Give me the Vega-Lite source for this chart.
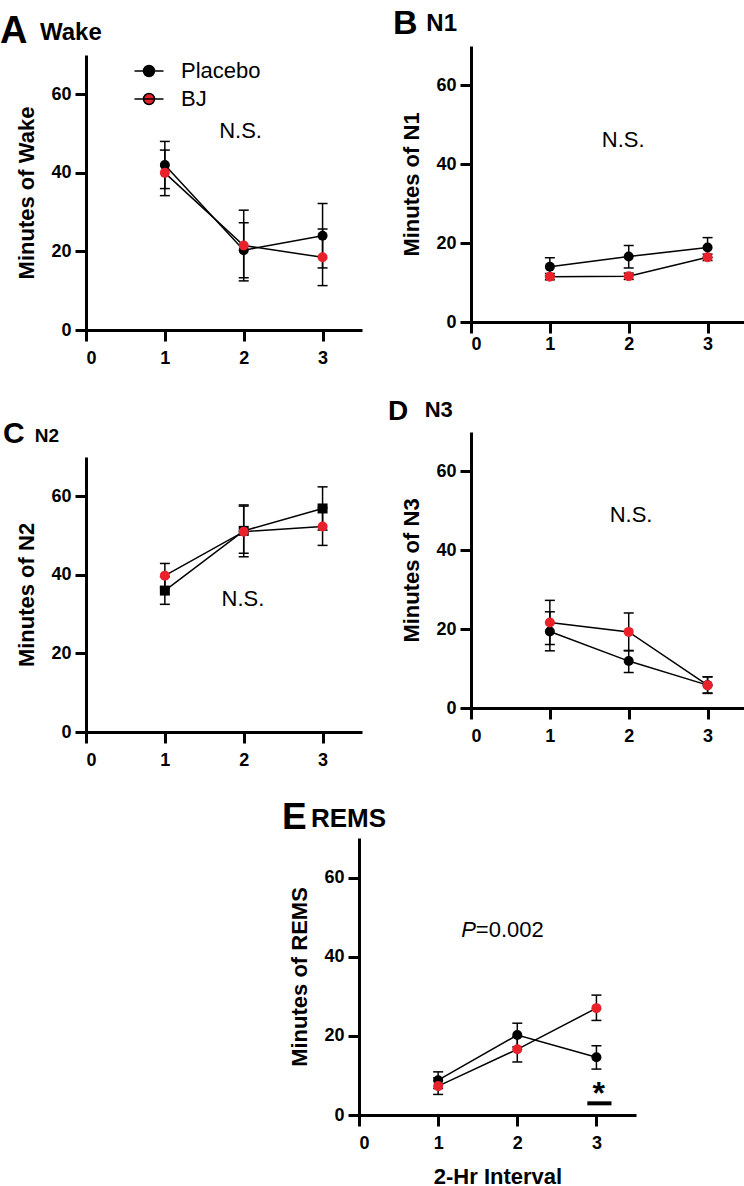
{
  "$schema": "https://vega.github.io/schema/vega-lite/v6.json",
  "padding": {"left": 0, "top": 6, "right": 0, "bottom": 0},
  "background": "white",
  "datasets": {
    "wake": [
      {"interval": 1, "group": "Placebo", "mean": 42, "lo": 36, "hi": 48},
      {"interval": 2, "group": "Placebo", "mean": 20.3, "lo": 13.3, "hi": 27.3},
      {"interval": 3, "group": "Placebo", "mean": 24, "lo": 15.8, "hi": 32.2},
      {"interval": 1, "group": "BJ", "mean": 40, "lo": 34.2, "hi": 45.8},
      {"interval": 2, "group": "BJ", "mean": 21.5, "lo": 12.5, "hi": 30.5},
      {"interval": 3, "group": "BJ", "mean": 18.5, "lo": 11.3, "hi": 25.7}
    ],
    "n1": [
      {"interval": 1, "group": "Placebo", "mean": 14, "lo": 11.7, "hi": 16.3},
      {"interval": 2, "group": "Placebo", "mean": 16.6, "lo": 13.7, "hi": 19.4},
      {"interval": 3, "group": "Placebo", "mean": 18.9, "lo": 16.4, "hi": 21.4},
      {"interval": 1, "group": "BJ", "mean": 11.5, "lo": 10.7, "hi": 12.3},
      {"interval": 2, "group": "BJ", "mean": 11.6, "lo": 10.8, "hi": 12.4},
      {"interval": 3, "group": "BJ", "mean": 16.4, "lo": 15.6, "hi": 17.2}
    ],
    "n2": [
      {"interval": 1, "group": "Placebo", "mean": 36, "lo": 32.5, "hi": 39.5},
      {"interval": 2, "group": "Placebo", "mean": 51.2, "lo": 44.6, "hi": 57.8},
      {"interval": 3, "group": "Placebo", "mean": 56.9, "lo": 51.4, "hi": 62.4},
      {"interval": 1, "group": "BJ", "mean": 39.8, "lo": 36.7, "hi": 42.9},
      {"interval": 2, "group": "BJ", "mean": 51, "lo": 45.5, "hi": 57.5},
      {"interval": 3, "group": "BJ", "mean": 52.3, "lo": 47.5, "hi": 57.1}
    ],
    "n3": [
      {"interval": 1, "group": "Placebo", "mean": 19.4, "lo": 14.5, "hi": 24.4},
      {"interval": 2, "group": "Placebo", "mean": 11.9, "lo": 9.0, "hi": 14.6},
      {"interval": 3, "group": "Placebo", "mean": 5.8, "lo": 3.7, "hi": 7.9},
      {"interval": 1, "group": "BJ", "mean": 21.7, "lo": 16.1, "hi": 27.3},
      {"interval": 2, "group": "BJ", "mean": 19.3, "lo": 14.5, "hi": 24.1},
      {"interval": 3, "group": "BJ", "mean": 5.8, "lo": 3.8, "hi": 7.9}
    ],
    "rems": [
      {"interval": 1, "group": "Placebo", "mean": 8.8, "lo": 6.7, "hi": 10.9},
      {"interval": 2, "group": "Placebo", "mean": 20.2, "lo": 17.2, "hi": 23.2},
      {"interval": 3, "group": "Placebo", "mean": 14.6, "lo": 11.6, "hi": 17.5},
      {"interval": 1, "group": "BJ", "mean": 7.3, "lo": 5.2, "hi": 9.4},
      {"interval": 2, "group": "BJ", "mean": 16.6, "lo": 13.4, "hi": 19.8},
      {"interval": 3, "group": "BJ", "mean": 27.0, "lo": 23.9, "hi": 30.3}
    ]
  },
  "config": {
    "font": "Liberation Sans",
    "view": {"stroke": null},
    "axis": {
      "grid": false, "domainColor": "black", "domainWidth": 3, "tickColor": "black", "tickWidth": 3, "tickSize": 11,
      "labelFont": "Liberation Sans", "labelFontWeight": "bold", "labelFontSize": 18, "labelColor": "black", "labelPadding": 4,
      "titleFont": "Liberation Sans", "titleFontWeight": "bold", "titleFontSize": 22, "titleColor": "black", "titlePadding": 12
    },
    "axisX": {"labelPadding": 8, "titlePadding": 14},
    "title": {"font": "Liberation Sans", "fontWeight": "bold", "color": "black", "anchor": "start", "frame": "group",
      "subtitleFont": "Liberation Sans", "subtitleFontWeight": "bold", "subtitleColor": "black"}
  },
  "vconcat": [
    {
      "spacing": 26,
      "hconcat": [
        {
          "spacing": 6,
          "vconcat": [
            {"width": 1, "height": 1, "data": {"values": []}, "mark": {"type": "point", "opacity": 0}, "encoding": {}},
            {
              "spacing": 52,
              "vconcat": [
                {
                  "width": 276, "height": 275,
                  "title": {"text": "A", "fontSize": 38, "subtitle": "\u200b\u00a0\u00a0\u00a0\u00a0\u00a0\u00a0Wake", "subtitleFontSize": 24, "subtitlePadding": -30, "dx": -86, "offset": 4},
                  "data": {"name": "wake"},
                  "encoding": {"x": {"field": "interval", "type": "quantitative", "scale": {"domain": [0, 3.5], "nice": false}, "axis": {"values": [0, 1, 2, 3], "title": null}}},
                  "layer": [
                    {"mark": {"type": "line", "color": "black", "strokeWidth": 1.5},
                     "encoding": {"y": {"field": "mean", "type": "quantitative", "scale": {"domain": [0, 70], "nice": false}, "axis": {"values": [0, 20, 40, 60], "title": "Minutes of Wake"}}, "detail": {"field": "group"}}},
                    {"mark": {"type": "rule", "color": "black", "strokeWidth": 1.5}, "encoding": {"y": {"field": "lo", "type": "quantitative"}, "y2": {"field": "hi"}}},
                    {"mark": {"type": "tick", "orient": "horizontal", "color": "black", "size": 10, "thickness": 1.5, "opacity": 1}, "encoding": {"y": {"field": "lo", "type": "quantitative"}}},
                    {"mark": {"type": "tick", "orient": "horizontal", "color": "black", "size": 10, "thickness": 1.5, "opacity": 1}, "encoding": {"y": {"field": "hi", "type": "quantitative"}}},
                    {"mark": {"type": "point", "filled": true, "size": 100, "opacity": 1},
                     "encoding": {"y": {"field": "mean", "type": "quantitative"},
                       "fill": {"field": "group", "type": "nominal", "scale": {"domain": ["Placebo", "BJ"], "range": ["#000000", "#e8212b"]},
                         "legend": {"orient": "none", "legendX": 52, "legendY": 54, "title": null, "symbolType": "M-2.9,0H2.9M0,-1.1A1.1,1.1,0,1,1,0,1.1A1.1,1.1,0,1,1,0,-1.1Z", "symbolSize": 100, "symbolStrokeColor": "black", "symbolStrokeWidth": 1.5, "symbolOpacity": 1, "labelOffset": 21, "labelFontSize": 22, "labelFont": "Liberation Sans", "labelColor": "black", "rowPadding": 6}}}},
                    {"mark": {"type": "text", "fontSize": 22, "font": "Liberation Sans", "color": "black"},
                     "encoding": {"text": {"condition": {"test": "datum.interval === 1 && datum.group === 'Placebo'", "value": "N.S."}, "value": ""}, "x": {"datum": 1.96}, "y": {"datum": 50.6}}}
                  ]
                },
                {
                  "width": 276, "height": 275,
                  "title": {"text": "C", "fontSize": 30, "subtitle": "\u200b\u00a0\u00a0\u00a0\u00a0\u00a0\u00a0N2", "subtitleFontSize": 19, "subtitlePadding": -22, "dx": -83, "offset": 8},
                  "data": {"name": "n2"},
                  "encoding": {"x": {"field": "interval", "type": "quantitative", "scale": {"domain": [0, 3.5], "nice": false}, "axis": {"values": [0, 1, 2, 3], "title": null}}},
                  "layer": [
                    {"mark": {"type": "line", "color": "black", "strokeWidth": 1.5},
                     "encoding": {"y": {"field": "mean", "type": "quantitative", "scale": {"domain": [0, 70], "nice": false}, "axis": {"values": [0, 20, 40, 60], "title": "Minutes of N2"}}, "detail": {"field": "group"}}},
                    {"mark": {"type": "rule", "color": "black", "strokeWidth": 1.5}, "encoding": {"y": {"field": "lo", "type": "quantitative"}, "y2": {"field": "hi"}}},
                    {"mark": {"type": "tick", "orient": "horizontal", "color": "black", "size": 10, "thickness": 1.5, "opacity": 1}, "encoding": {"y": {"field": "lo", "type": "quantitative"}}},
                    {"mark": {"type": "tick", "orient": "horizontal", "color": "black", "size": 10, "thickness": 1.5, "opacity": 1}, "encoding": {"y": {"field": "hi", "type": "quantitative"}}},
                    {"transform": [{"filter": "datum.group === 'Placebo'"}], "mark": {"type": "point", "shape": "square", "filled": true, "size": 100, "opacity": 1, "color": "#000000"},
                     "encoding": {"y": {"field": "mean", "type": "quantitative"}}},
                    {"transform": [{"filter": "datum.group === 'BJ'"}], "mark": {"type": "point", "shape": "circle", "filled": true, "size": 100, "opacity": 1, "color": "#e8212b"},
                     "encoding": {"y": {"field": "mean", "type": "quantitative"}}},
                    {"mark": {"type": "text", "fontSize": 22, "font": "Liberation Sans", "color": "black"},
                     "encoding": {"text": {"condition": {"test": "datum.interval === 1 && datum.group === 'Placebo'", "value": "N.S."}, "value": ""}, "x": {"datum": 1.99}, "y": {"datum": 33.8}}}
                  ]
                }
              ]
            }
          ]
        },
        {
          "spacing": 0,
          "vconcat": [
            {"width": 1, "height": 1, "data": {"values": []}, "mark": {"type": "point", "opacity": 0}, "encoding": {}},
            {
              "spacing": 45,
              "vconcat": [
                {
                  "width": 276, "height": 276,
                  "title": {"text": "B", "fontSize": 34, "subtitle": "\u200b\u00a0\u00a0\u00a0\u00a0\u00a0N1", "subtitleFontSize": 24, "subtitlePadding": -29, "dx": -78, "offset": 5},
                  "data": {"name": "n1"},
                  "encoding": {"x": {"field": "interval", "type": "quantitative", "scale": {"domain": [0, 3.5], "nice": false}, "axis": {"values": [0, 1, 2, 3], "title": null, "labelPadding": 2}}},
                  "layer": [
                    {"mark": {"type": "line", "color": "black", "strokeWidth": 1.5},
                     "encoding": {"y": {"field": "mean", "type": "quantitative", "scale": {"domain": [0, 70], "nice": false}, "axis": {"values": [0, 20, 40, 60], "title": "Minutes of N1"}}, "detail": {"field": "group"}}},
                    {"mark": {"type": "rule", "color": "black", "strokeWidth": 1.5}, "encoding": {"y": {"field": "lo", "type": "quantitative"}, "y2": {"field": "hi"}}},
                    {"mark": {"type": "tick", "orient": "horizontal", "color": "black", "size": 10, "thickness": 1.5, "opacity": 1}, "encoding": {"y": {"field": "lo", "type": "quantitative"}}},
                    {"mark": {"type": "tick", "orient": "horizontal", "color": "black", "size": 10, "thickness": 1.5, "opacity": 1}, "encoding": {"y": {"field": "hi", "type": "quantitative"}}},
                    {"mark": {"type": "point", "filled": true, "size": 100, "opacity": 1},
                     "encoding": {"y": {"field": "mean", "type": "quantitative"},
                       "fill": {"field": "group", "type": "nominal", "scale": {"domain": ["Placebo", "BJ"], "range": ["#000000", "#e8212b"]}, "legend": null}}},
                    {"mark": {"type": "text", "fontSize": 22, "font": "Liberation Sans", "color": "black"},
                     "encoding": {"text": {"condition": {"test": "datum.interval === 1 && datum.group === 'Placebo'", "value": "N.S."}, "value": ""}, "x": {"datum": 1.93}, "y": {"datum": 46.1}}}
                  ]
                },
                {
                  "width": 276, "height": 276,
                  "title": {"text": "D", "fontSize": 28, "subtitle": "\u200b\u00a0\u00a0\u00a0\u00a0\u00a0\u00a0N3", "subtitleFontSize": 22, "subtitlePadding": -26, "dx": -83, "offset": 6},
                  "data": {"name": "n3"},
                  "encoding": {"x": {"field": "interval", "type": "quantitative", "scale": {"domain": [0, 3.5], "nice": false}, "axis": {"values": [0, 1, 2, 3], "title": null}}},
                  "layer": [
                    {"mark": {"type": "line", "color": "black", "strokeWidth": 1.5},
                     "encoding": {"y": {"field": "mean", "type": "quantitative", "scale": {"domain": [0, 70], "nice": false}, "axis": {"values": [0, 20, 40, 60], "title": "Minutes of N3"}}, "detail": {"field": "group"}}},
                    {"mark": {"type": "rule", "color": "black", "strokeWidth": 1.5}, "encoding": {"y": {"field": "lo", "type": "quantitative"}, "y2": {"field": "hi"}}},
                    {"mark": {"type": "tick", "orient": "horizontal", "color": "black", "size": 10, "thickness": 1.5, "opacity": 1}, "encoding": {"y": {"field": "lo", "type": "quantitative"}}},
                    {"mark": {"type": "tick", "orient": "horizontal", "color": "black", "size": 10, "thickness": 1.5, "opacity": 1}, "encoding": {"y": {"field": "hi", "type": "quantitative"}}},
                    {"mark": {"type": "point", "filled": true, "size": 100, "opacity": 1},
                     "encoding": {"y": {"field": "mean", "type": "quantitative"},
                       "fill": {"field": "group", "type": "nominal", "scale": {"domain": ["Placebo", "BJ"], "range": ["#000000", "#e8212b"]}, "legend": null}}},
                    {"mark": {"type": "text", "fontSize": 22, "font": "Liberation Sans", "color": "black"},
                     "encoding": {"text": {"condition": {"test": "datum.interval === 1 && datum.group === 'Placebo'", "value": "N.S."}, "value": ""}, "x": {"datum": 2.03}, "y": {"datum": 48.9}}}
                  ]
                }
              ]
            }
          ]
        }
      ]
    },
    {
      "spacing": 0,
      "hconcat": [
        {"width": 196, "height": 1, "data": {"values": []}, "mark": {"type": "point", "opacity": 0}, "encoding": {}},
        {
          "width": 277, "height": 277,
          "title": {"text": "E", "fontSize": 37, "subtitle": "\u200b\u00a0\u00a0\u00a0\u00a0REMS", "subtitleFontSize": 26, "subtitlePadding": -31, "dx": -77, "offset": 1},
          "data": {"name": "rems"},
          "encoding": {"x": {"field": "interval", "type": "quantitative", "scale": {"domain": [0, 3.5], "nice": false}, "axis": {"values": [0, 1, 2, 3], "title": "2-Hr Interval"}}},
          "layer": [
            {"mark": {"type": "line", "color": "black", "strokeWidth": 1.5},
             "encoding": {"y": {"field": "mean", "type": "quantitative", "scale": {"domain": [0, 70], "nice": false}, "axis": {"values": [0, 20, 40, 60], "title": "Minutes of REMS"}}, "detail": {"field": "group"}}},
            {"mark": {"type": "rule", "color": "black", "strokeWidth": 1.5}, "encoding": {"y": {"field": "lo", "type": "quantitative"}, "y2": {"field": "hi"}}},
            {"mark": {"type": "tick", "orient": "horizontal", "color": "black", "size": 10, "thickness": 1.5, "opacity": 1}, "encoding": {"y": {"field": "lo", "type": "quantitative"}}},
            {"mark": {"type": "tick", "orient": "horizontal", "color": "black", "size": 10, "thickness": 1.5, "opacity": 1}, "encoding": {"y": {"field": "hi", "type": "quantitative"}}},
            {"mark": {"type": "point", "filled": true, "size": 100, "opacity": 1},
             "encoding": {"y": {"field": "mean", "type": "quantitative"},
               "fill": {"field": "group", "type": "nominal", "scale": {"domain": ["Placebo", "BJ"], "range": ["#000000", "#e8212b"]}, "legend": null}}},
            {"mark": {"type": "text", "fontStyle": "italic", "align": "right", "fontSize": 22, "font": "Liberation Sans", "color": "black"},
             "encoding": {"text": {"condition": {"test": "datum.interval === 1 && datum.group === 'Placebo'", "value": "P"}, "value": ""}, "x": {"datum": 1.476}, "y": {"datum": 46.7}}},
            {"mark": {"type": "text", "align": "left", "fontSize": 22, "font": "Liberation Sans", "color": "black"},
             "encoding": {"text": {"condition": {"test": "datum.interval === 1 && datum.group === 'Placebo'", "value": "=0.002"}, "value": ""}, "x": {"datum": 1.476}, "y": {"datum": 46.7}}},
            {"mark": {"type": "text", "fontSize": 32, "fontWeight": "bold", "font": "Liberation Sans", "color": "black", "baseline": "middle"},
             "encoding": {"text": {"condition": {"test": "datum.interval === 1 && datum.group === 'Placebo'", "value": "*"}, "value": ""}, "x": {"datum": 3.03}, "y": {"datum": 5.2}}},
            {"mark": {"type": "rule", "color": "black", "strokeWidth": 4},
             "encoding": {"opacity": {"condition": {"test": "datum.interval === 1 && datum.group === 'Placebo'", "value": 1}, "value": 0}, "x": {"datum": 2.885}, "x2": {"datum": 3.19}, "y": {"datum": 2.95}}}
          ]
        }
      ]
    }
  ],
  "spacing": 30
}
